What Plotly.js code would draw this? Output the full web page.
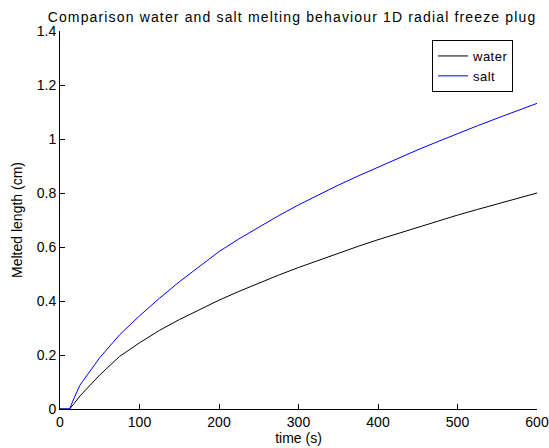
<!DOCTYPE html>
<html>
<head>
<meta charset="utf-8">
<script src="https://cdn.plot.ly/plotly-3.0.1.min.js"></script>
<style>
html,body{margin:0;padding:0;background:#fff;}
#chart{width:549px;height:448px;}
#chart .gtitle{letter-spacing:1.15px;}
#chart .legendtext{letter-spacing:0.5px;}
</style>
</head>
<body>
<div id="chart"></div>
<script>
// time (s)
const timeS = [0, 12, 18, 25, 50, 75, 100, 125, 150, 175, 200, 225, 250, 275, 300, 325, 350, 375, 400, 425, 450, 475, 500, 525, 550, 575, 600];
// melted length (cm)
const waterLen = [0, 0, 0.021, 0.048, 0.126, 0.195, 0.245, 0.291, 0.331, 0.368, 0.403, 0.4355, 0.4665, 0.496, 0.524, 0.551, 0.577, 0.6025, 0.627, 0.6505, 0.6735, 0.696, 0.718, 0.739, 0.7595, 0.780, 0.800];
const saltLen  = [0, 0, 0.042, 0.088, 0.19, 0.275, 0.345, 0.410, 0.471, 0.528, 0.583, 0.630, 0.674, 0.716, 0.756, 0.7935, 0.829, 0.863, 0.896, 0.9285, 0.960, 0.990, 1.020, 1.049, 1.077, 1.105, 1.132];
const seriesNames = ["water", "salt"];
const xTicks = [0, 100, 200, 300, 400, 500, 600];
const yTicks = [0, 0.2, 0.4, 0.6, 0.8, 1, 1.2, 1.4];
const yTickText = ["0", "0.2", "0.4", "0.6", "0.8", "1", "1.2", "1.4"];

const FONT = "Liberation Sans, Arial, Helvetica, sans-serif";

const traces = [
  {x: timeS, y: waterLen, name: seriesNames[0], type: "scatter", mode: "lines",
   line: {color: "#000000", width: 1}},
  {x: timeS, y: saltLen, name: seriesNames[1], type: "scatter", mode: "lines",
   line: {color: "#0000ff", width: 1}}
];

const axisCommon = {
  showline: true, linecolor: "#000", linewidth: 1, mirror: false,
  ticks: "inside", ticklen: 5, tickwidth: 1, tickcolor: "#000",
  showgrid: false, zeroline: false,
  tickfont: {family: FONT, size: 14, color: "#000"}
};

const layout = {
  width: 549, height: 448,
  margin: {l: 60, r: 12, t: 31, b: 39, pad: 0},
  paper_bgcolor: "#fff", plot_bgcolor: "#fff",
  font: {family: FONT, size: 14, color: "#000"},
  title: {text: "Comparison water and salt melting behaviour 1D radial freeze plug",
          font: {family: FONT, size: 14, color: "#000"},
          x: 292/549, xref: "container", xanchor: "center", y: 1 - 17/448, yref: "container", yanchor: "middle"},
  xaxis: Object.assign({}, axisCommon, {
    range: [0, 600], tickvals: xTicks, ticktext: xTicks.map(String),
    title: {text: "time (s)", font: {family: FONT, size: 14, color: "#000"}, standoff: 1}
  }),
  yaxis: Object.assign({}, axisCommon, {
    range: [0, 1.4], tickvals: yTicks, ticktext: yTickText,
    title: {text: "Melted length (cm)", font: {family: FONT, size: 14, color: "#000"}, standoff: 10}
  }),
  showlegend: true,
  legend: {x: (432-60)/477, y: (409-40)/378, xanchor: "left", yanchor: "top",
           bgcolor: "#fff", bordercolor: "#000", borderwidth: 1,
           font: {family: FONT, size: 13, color: "#000"}, tracegroupgap: 0}
};

Plotly.newPlot("chart", traces, layout, {displayModeBar: false, staticPlot: true});
</script>
</body>
</html>
